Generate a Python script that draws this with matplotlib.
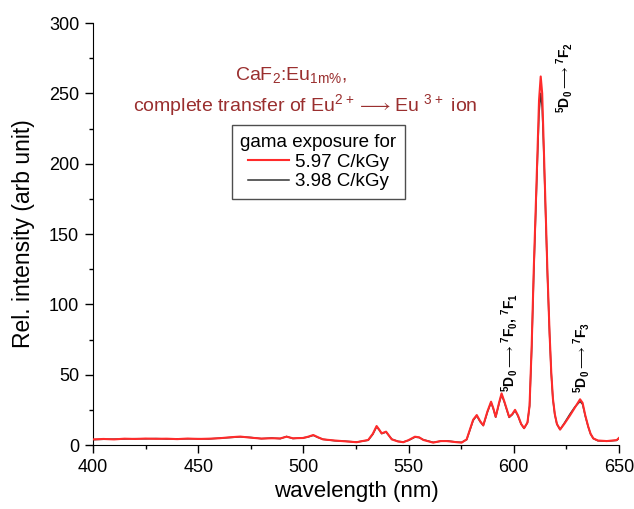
import matplotlib
matplotlib.use('Agg')
import matplotlib.pyplot as plt
from matplotlib.ticker import MultipleLocator

plt.rcParams['font.family'] = ['Liberation Sans', 'DejaVu Sans']
plt.rcParams['mathtext.default'] = 'regular'

# emission spectrum, wavelength (nm) vs rel. intensity
wavelength = [400, 405, 410, 415, 420, 425, 430, 435, 440, 445, 450, 455, 460, 465,
              470, 475, 480, 485, 489, 492, 495, 500, 502, 504.7, 507, 509.3, 515, 520,
              525.3, 530.8, 533, 534.8, 536, 537.2, 539.3, 542, 545, 547.5, 550, 553,
              555, 557, 561.7, 565, 568.1, 572.9, 575.2, 577.6, 580.7, 582.4, 584, 585.5,
              587.5, 589.2, 590.3, 591.4, 593, 594.2, 595.5, 597.8, 599.3, 600.6, 602,
              603.5, 604.9, 606.5, 607.5, 608.5, 609.5, 610.5, 611.3, 612, 612.8, 613.5,
              614.2, 615, 616, 617, 617.8, 618.6, 619.5, 620.5, 622, 624, 626.7, 629,
              631.5, 632.7, 634, 635.4, 636.5, 637.8, 640, 644.2, 648.9, 650]

dose_597 = [4.0, 4.3, 4.0, 4.5, 4.3, 4.6, 4.4, 4.5, 4.2, 4.6, 4.3, 4.5, 4.8, 5.5,
            6.0, 5.2, 4.6, 4.8, 4.7, 5.9, 4.8, 5.0, 5.8, 7.1, 5.5, 4.0, 3.2, 2.6,
            2.0, 3.6, 8.0, 13.5, 11.0, 8.3, 9.5, 4.0, 2.5, 2.0, 3.5, 5.9,
            5.5, 3.6, 1.7, 2.8, 2.8, 2.0, 1.7, 4.0, 18.0, 21.3, 17.0, 14.0,
            24.0, 30.8, 26.0, 20.0, 30.0, 36.7, 31.0, 20.0, 22.0, 25.0, 21.0,
            15.0, 12.0, 16.0, 28.0, 70.0, 125.0, 172.0, 210.0, 245.0, 262.0, 250.0,
            215.0, 174.0, 123.0, 80.0, 52.0, 33.0, 22.0, 15.0, 11.0, 15.0, 21.0, 26.5,
            32.5, 30.0, 21.0, 13.0, 8.0, 4.7, 3.2, 2.8, 3.5, 5.0]

dose_398 = [3.8, 4.1, 4.2, 4.3, 4.5, 4.4, 4.6, 4.3, 4.4, 4.4, 4.5, 4.3, 4.9, 5.3,
            5.8, 5.4, 4.5, 5.0, 4.5, 6.1, 4.6, 5.2, 5.6, 6.9, 5.3, 4.1, 3.0, 2.7,
            2.1, 3.4, 7.6, 13.0, 10.8, 8.1, 9.2, 4.2, 2.6, 2.2, 3.3, 5.6,
            5.3, 3.8, 1.9, 2.6, 3.0, 2.1, 1.9, 3.8, 17.5, 20.8, 16.6, 13.8,
            23.5, 30.2, 25.6, 19.8, 29.5, 35.8, 30.5, 19.6, 21.6, 24.5, 20.6,
            14.8, 11.8, 15.8, 27.5, 68.0, 122.0, 168.0, 205.0, 236.0, 250.0, 240.0,
            211.0, 171.0, 121.0, 79.0, 51.0, 32.5, 21.6, 14.8, 11.0, 15.5, 22.0, 27.0,
            31.0, 29.0, 20.5, 12.8, 7.8, 4.6, 3.0, 2.7, 3.3, 4.8]

legend_labels = ['5.97 C/kGy', '3.98 C/kGy']
title_color = '#9a2f2f'

fig = plt.figure(figsize=(6.34, 5.09), dpi=100)
ax = fig.add_axes([0.1467, 0.1257, 0.8296, 0.8291])

ax.plot(wavelength, dose_597, color='#ff2b2b', linewidth=1.5, label=legend_labels[0], zorder=3)
ax.plot(wavelength, dose_398, color='#333333', linewidth=1.1, label=legend_labels[1], zorder=2)

ax.set_xlim(400, 650)
ax.set_ylim(0, 300)
ax.xaxis.set_major_locator(MultipleLocator(50))
ax.xaxis.set_minor_locator(MultipleLocator(25))
ax.yaxis.set_major_locator(MultipleLocator(50))
ax.yaxis.set_minor_locator(MultipleLocator(25))
ax.tick_params(which='major', direction='out', length=5.5, width=1, labelsize=13, pad=4.5)
ax.tick_params(which='minor', direction='out', length=3, width=1)
ax.spines['top'].set_visible(False)
ax.spines['right'].set_visible(False)
ax.set_xlabel('wavelength (nm)', fontsize=16, labelpad=4)
ax.set_ylabel('Rel. intensity (arb unit)', fontsize=16.5, labelpad=10)

# sample description
ax.text(0.377, 0.877, r'CaF$_2$:Eu$_{1m\%}$,', transform=ax.transAxes, ha='center',
        va='center', fontsize=14, color=title_color)
ax.text(0.403, 0.806, r'complete transfer of Eu$^{2+}$$\longrightarrow$Eu $^{3+}$ ion',
        transform=ax.transAxes, ha='center', va='center', fontsize=14, color=title_color)

leg = ax.legend(title='gama exposure for', loc='upper left', bbox_to_anchor=(0.264, 0.758),
                borderaxespad=0, fontsize=13.5, title_fontsize=13.5, frameon=True, fancybox=False,
                handlelength=2.2, handletextpad=0.3, labelspacing=0.15, borderpad=0.45,
                alignment='center')
leg.get_frame().set_edgecolor('#222222')
leg.get_frame().set_linewidth(1.0)

# transition labels
ax.text(624.3, 236, r'$^5$D$_0$$\longrightarrow$$^7$F$_2$', rotation=90, ha='center',
        va='bottom', fontsize=10, fontweight='bold')
ax.text(598.2, 38, r'$^5$D$_0$$\longrightarrow$$^7$F$_0$, $^7$F$_1$', rotation=90, ha='center',
        va='bottom', fontsize=10, fontweight='bold')
ax.text(632.4, 37, r'$^5$D$_0$$\longrightarrow$$^7$F$_3$', rotation=90, ha='center',
        va='bottom', fontsize=10, fontweight='bold')

fig.savefig('out.png', dpi=100)
